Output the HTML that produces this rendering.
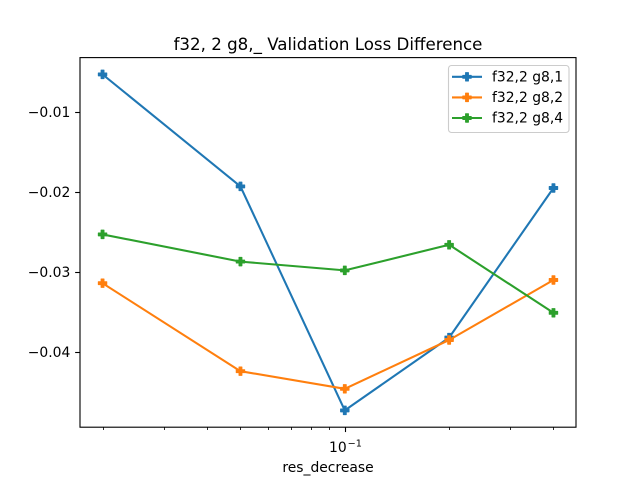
<!DOCTYPE html>
<html>
<head>
<meta charset="utf-8">
<style>
html,body{margin:0;padding:0;background:#fff;}
svg{display:block;}
text{font-family:"DejaVu Sans","Liberation Sans",sans-serif;fill:#000;}
</style>
</head>
<body>
<svg id="chart" xmlns="http://www.w3.org/2000/svg" width="640" height="480" viewBox="0 0 640 480">
<rect x="0" y="0" width="640" height="480" fill="#fff"/>
<rect x="80" y="57.6" width="496" height="369.6" fill="#fff"/>
<g id="marks"></g>
<g id="axes"></g>
<text x="328" y="50" font-size="16.67" text-anchor="middle">f32, 2 g8,_ Validation Loss Difference</text>
<text x="328" y="472" font-size="13.89" text-anchor="middle">res_decrease</text>
<text x="329" y="452" font-size="13.89">10<tspan dx="1" dy="-5.5" font-size="9.7">−1</tspan></text>
<g id="legend">
<rect x="448.5" y="65.5" width="120.5" height="67" rx="3" ry="3" fill="#fff" fill-opacity="0.8" stroke="#ccc" stroke-width="1.1"/>
</g>
</svg>
<script>
const xValues = [0.02, 0.05, 0.1, 0.2, 0.4];
const seriesNames = ['f32,2 g8,1', 'f32,2 g8,2', 'f32,2 g8,4'];
const seriesG81 = [-0.0053, -0.0193, -0.0473, -0.0382, -0.0195];
const seriesG82 = [-0.0314, -0.0424, -0.0446, -0.0385, -0.031];
const seriesG84 = [-0.0253, -0.0287, -0.0298, -0.0266, -0.0351];
const yTickValues = [-0.01, -0.02, -0.03, -0.04];
const yTickLabels = ['−0.01', '−0.02', '−0.03', '−0.04'];
const xMajorTicks = [0.1];
const xMinorTicks = [0.02, 0.03, 0.04, 0.05, 0.06, 0.07, 0.08, 0.09, 0.2, 0.3, 0.4];

const allSeries = [seriesG81, seriesG82, seriesG84];
const colors = ['#1f77b4', '#ff7f0e', '#2ca02c'];
const plot = {left: 80, right: 576, top: 57.6, bottom: 427.2};
const NS = 'http://www.w3.org/2000/svg';

function extent(list) {
  return [Math.min.apply(null, list), Math.max.apply(null, list)];
}
const xExt = extent(xValues);
const yExt = extent([].concat(seriesG81, seriesG82, seriesG84));
const xMarginPx = (plot.right - plot.left) / 22;
const yMarginPx = (plot.bottom - plot.top) / 22;

function xPos(v) {
  const lo = Math.log10(xExt[0]), hi = Math.log10(xExt[1]);
  return plot.left + xMarginPx + (Math.log10(v) - lo) / (hi - lo) * (plot.right - plot.left - 2 * xMarginPx);
}
function yPos(v) {
  return plot.bottom - yMarginPx - (v - yExt[0]) / (yExt[1] - yExt[0]) * (plot.bottom - plot.top - 2 * yMarginPx);
}
function make(tag, attrs, parent) {
  const el = document.createElementNS(NS, tag);
  for (const k in attrs) el.setAttribute(k, attrs[k]);
  parent.appendChild(el);
  return el;
}
function markerPoints() {
  const u = 8.33 / 6;
  const shape = [[-1,-3],[1,-3],[1,-1],[3,-1],[3,1],[1,1],[1,3],[-1,3],[-1,1],[-3,1],[-3,-1],[-1,-1]];
  return shape.map(function (p) { return (p[0] * u) + ',' + (p[1] * u); }).join(' ');
}
function addMarker(parent, cx, cy, color) {
  const m = make('polygon', {points: markerPoints(), transform: 'translate(' + cx + ',' + cy + ')', fill: color, stroke: color, 'stroke-width': 1.1, 'stroke-linejoin': 'round'}, parent);
  
  
  return m;
}

const marks = document.getElementById('marks');
allSeries.forEach(function (vals, s) {
  const g = make('g', {}, marks);
  
  
  const pts = vals.map(function (v, i) { return xPos(xValues[i]) + ',' + yPos(v); }).join(' ');
  const line = make('polyline', {points: pts, fill: 'none', stroke: colors[s], 'stroke-width': 2.08, 'stroke-linejoin': 'round', 'stroke-linecap': 'square'}, g);
  
  
  vals.forEach(function (v, i) { addMarker(g, xPos(xValues[i]), yPos(v), colors[s]); });
});

const axes = document.getElementById('axes');
yTickValues.forEach(function (v, i) {
  const y = Math.round(yPos(v)) + 0.5;
  const t = make('line', {x1: plot.left - 4.86, x2: plot.left, y1: y, y2: y, stroke: '#000', 'stroke-width': 1.11}, axes);
  
  
  const l = make('text', {x: 70.3, y: yPos(v) + 5, 'text-anchor': 'end', 'font-size': 13.89}, axes);
  
  
  l.textContent = yTickLabels[i];
});
xMajorTicks.forEach(function (v) {
  const x = Math.round(xPos(v)) + 0.5;
  const t = make('line', {x1: x, x2: x, y1: plot.bottom, y2: plot.bottom + 4.86, stroke: '#000', 'stroke-width': 1.11}, axes);
  
  
});
xMinorTicks.forEach(function (v) {
  const x = Math.round(xPos(v)) + 0.5;
  const t = make('line', {x1: x, x2: x, y1: plot.bottom, y2: plot.bottom + 2.78, stroke: '#000', 'stroke-width': 0.83}, axes);
  
  
});
const frame = make('rect', {x: plot.left, y: plot.top, width: plot.right - plot.left, height: plot.bottom - plot.top, fill: 'none', stroke: '#000', 'stroke-width': 1.11}, axes);



const legend = document.getElementById('legend');
seriesNames.forEach(function (name, s) {
  const y = 76.8 + s * 20.6;
  const h = make('line', {x1: 452, x2: 482, y1: y, y2: y, stroke: colors[s], 'stroke-width': 2.08}, legend);
  
  
  addMarker(legend, 467, y, colors[s]);
  const t = make('text', {x: 492, y: y + 4.6, 'font-size': 13.89}, legend);
  
  
  t.textContent = name;
});
</script>
</body>
</html>
